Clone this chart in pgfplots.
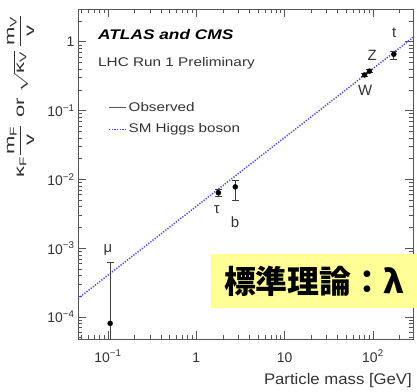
\documentclass[border=0pt]{standalone}
\usepackage{pgfplots}
\pgfplotsset{compat=1.18}
\usepackage{amsmath}
\usepackage{graphicx}
\usepackage{fontspec}
\setmainfont{Liberation Sans}
\newfontfamily\cjk{Noto Sans CJK JP}
\definecolor{smblue}{RGB}{70,70,230}
\definecolor{boxyellow}{RGB}{255,255,150}
\definecolor{axgray}{RGB}{85,85,85}
\begin{document}
\begin{tikzpicture}
\useasboundingbox (-78bp,-53bp) rectangle (339bp,339bp);
\begin{axis}[
  at={(0,0)}, anchor=south west,
  scale only axis, width=335bp, height=330bp,
  xmode=log, ymode=log,
  xmin=0.0457, xmax=284, ymin=4.8e-5, ymax=3,
  axis line style={axgray, line width=0.9bp},
  every tick/.style={axgray, line width=0.7bp},
  tick align=inside,
  major tick length=8bp, minor tick length=4bp,
  xtick={0.1,1,10,100},
  xticklabels={10\textsuperscript{−1},1,10,10\textsuperscript{2}},
  minor xtick={0.05,0.06,0.07,0.08,0.09,0.2,0.3,0.4,0.5,0.6,0.7,0.8,0.9,2,3,4,5,6,7,8,9,20,30,40,50,60,70,80,90,200},
  ytick={1e-4,1e-3,1e-2,1e-1,1},
  yticklabels={10\textsuperscript{−4},10\textsuperscript{−3},10\textsuperscript{−2},10\textsuperscript{−1},1},
  minor ytick={5e-5,6e-5,7e-5,8e-5,9e-5,2e-4,3e-4,4e-4,5e-4,6e-4,7e-4,8e-4,9e-4,2e-3,3e-3,4e-3,5e-3,6e-3,7e-3,8e-3,9e-3,2e-2,3e-2,4e-2,5e-2,6e-2,7e-2,8e-2,9e-2,0.2,0.3,0.4,0.5,0.6,0.7,0.8,0.9,2},
  ticklabel style={font=\fontsize{14}{16}\selectfont, text=black!80},
  xticklabel style={anchor=base, yshift=-23bp},
  legend style={draw=none, fill=none, at={(0.0896,0.668)}, anchor=west,
    font=\fontsize{12.6}{14}\selectfont, inner sep=0pt, row sep=5bp,
    cells={anchor=west}, nodes={text height=9.5bp, text depth=3bp, text=black!80}},
  legend image code/.code={\draw[#1] (0bp,0bp) -- (17bp,0bp);},
  clip mode=individual,
]
\addlegendimage{axgray, line width=1.3bp}
\addlegendentry{\scalebox{1.21}[1]{Observed}}
\addplot[smblue, line width=1.5bp, dash pattern=on 1.2bp off 1.5bp] coordinates {(0.0457,1.86e-4) (284,1.155)};
\addlegendentry{\scalebox{1.21}[1]{SM Higgs boson}}
\addplot[only marks, mark=*, mark size=2.5bp, black,
  error bars/.cd, y dir=both, y explicit,
  error bar style={black!75, line width=1bp},
  error mark options={black!75, rotate=90, mark size=3.5bp, line width=1bp}]
  coordinates {
  (0.1057,8.1e-5) += (0,5.3e-4) -= (0,7.9e-5)
  (1.777,6.4e-3) += (0,0.8e-3) -= (0,0.7e-3)
  (2.76,7.8e-3) += (0,2.0e-3) -= (0,2.8e-3)
  (80.4,0.33) += (0,0.02) -= (0,0.02)
  (91.2,0.375) += (0,0.02) -= (0,0.02)
  (172.5,0.66) += (0,0.055) -= (0,0.10)
  };
\node[font=\fontsize{15}{17}\selectfont, text=black!80] at (axis cs:0.1,9.4e-4) {μ};
\node[font=\fontsize{15}{17}\selectfont, text=black!80] at (axis cs:1.71,3.7e-3) {τ};
\node[font=\fontsize{15}{17}\selectfont, text=black!80] at (axis cs:2.74,2.4e-3) {b};
\node[font=\fontsize{15}{17}\selectfont, text=black!80] at (axis cs:81.6,0.2) {W};
\node[font=\fontsize{15}{17}\selectfont, text=black!80] at (axis cs:98,0.64) {Z};
\node[font=\fontsize{15}{17}\selectfont, text=black!80] at (axis cs:174,1.34) {t};
\end{axis}
\node[anchor=base west, inner sep=0pt, font=\fontsize{14}{16}\selectfont\bfseries\itshape] at (20bp,299.7bp) {\scalebox{1.24}[1]{ATLAS and CMS}};
\node[anchor=base west, inner sep=0pt, font=\fontsize{12.6}{14}\selectfont, text=black!80] at (20bp,272.3bp) {\scalebox{1.22}[1]{LHC Run 1 Preliminary}};
\node[anchor=base east, inner sep=0pt, font=\fontsize{15.4}{17}\selectfont, text=black!80] at (334bp,-45bp) {\scalebox{1.09}[1]{Particle mass [GeV]}};
\node[rotate=90, inner sep=0pt, font=\fontsize{14}{16}\selectfont, text=black!80] at (-57.5bp,243bp) {\scalebox{1.58}[1]{$\text{κ}_{\text{F}}\dfrac{\text{m}_{\text{F}}}{\text{v}}$ or $\sqrt{\text{κ}_{\text{V}}}\,\dfrac{\text{m}_{\text{V}}}{\text{v}}$}};
\fill[boxyellow] (133bp,31bp) rectangle (339bp,85bp);
\node[font=\cjk\bfseries\fontsize{32}{36}\selectfont] at (236bp,58bp) {標準理論：λ};
\end{tikzpicture}
\end{document}
